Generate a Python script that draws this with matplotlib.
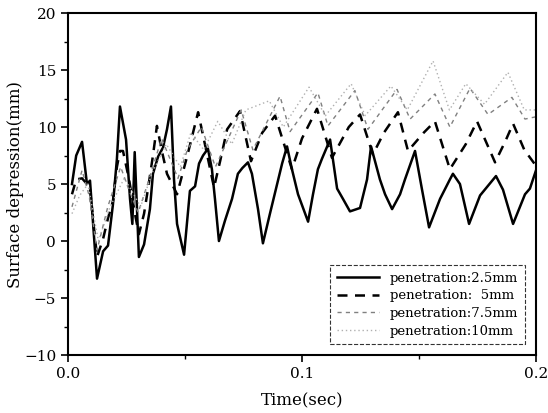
import matplotlib
matplotlib.use("Agg")
import matplotlib.pyplot as plt
from matplotlib.ticker import MultipleLocator

plt.rcParams['font.family'] = ['DejaVu Serif']

# penetration 2.5 mm (solid)
t_25 = [0.0017, 0.0035, 0.0060, 0.0081, 0.0094, 0.0124, 0.0150, 0.0171, 0.0192, 0.0209,
        0.0222, 0.0248, 0.0265, 0.0275, 0.0285, 0.0303, 0.0325, 0.0350, 0.0363, 0.0385,
        0.0406, 0.0423, 0.0440, 0.0453, 0.0466, 0.0496, 0.0521, 0.0543, 0.0560, 0.0577,
        0.0598, 0.0615, 0.0628, 0.0645, 0.0671, 0.0701, 0.0726, 0.0745, 0.0769, 0.0786,
        0.0812, 0.0833, 0.0863, 0.0889, 0.0915, 0.0936, 0.0957, 0.0983, 0.1026, 0.1047,
        0.1068, 0.1085, 0.1120, 0.1150, 0.1175, 0.1205, 0.1248, 0.1278, 0.1295, 0.1333,
        0.1355, 0.1385, 0.1419, 0.1440, 0.1483, 0.1513, 0.1543, 0.1590, 0.1632, 0.1645,
        0.1675, 0.1714, 0.1761, 0.1829, 0.1859, 0.1902, 0.1953, 0.1974, 0.2000]
y_25 = [5.0, 7.5, 8.7, 5.0, 5.3, -3.3, -0.9, -0.4, 3.2, 7.2,
        11.8, 8.9, 3.7, 1.5, 7.8, -1.4, -0.3, 2.8, 5.9, 7.4,
        8.2, 9.8, 11.8, 5.4, 1.5, -1.2, 4.4, 4.8, 6.8, 7.5,
        8.1, 6.3, 3.7, 0.0, 1.8, 3.7, 5.9, 6.4, 6.9, 5.9,
        2.8, -0.2, 2.4, 4.6, 6.8, 8.3, 6.3, 4.1, 1.7, 4.1,
        6.3, 7.2, 8.9, 4.6, 3.7, 2.6, 2.9, 5.4, 8.3, 5.4,
        4.1, 2.8, 4.1, 5.4, 7.9, 4.5, 1.2, 3.7, 5.4, 5.9,
        5.0, 1.5, 4.0, 5.7, 4.5, 1.5, 4.1, 4.6, 6.2]

# penetration 5 mm (dashed)
t_5 = [0.0017, 0.0035, 0.0060, 0.0081, 0.0094, 0.0124, 0.0150, 0.0171, 0.0192, 0.0209,
       0.0222, 0.0235, 0.0260, 0.0285, 0.0303, 0.0325, 0.0345, 0.0363, 0.0380, 0.0400,
       0.0423, 0.0466, 0.0510, 0.0556, 0.0585, 0.0624, 0.0650, 0.0680, 0.0735, 0.0782,
       0.0830, 0.0885, 0.0957, 0.1000, 0.1064, 0.1128, 0.1200, 0.1248, 0.1303, 0.1350,
       0.1410, 0.1453, 0.1520, 0.1568, 0.1632, 0.1700, 0.1748, 0.1825, 0.1870, 0.1902,
       0.1950, 0.2000]
y_5 = [4.1, 5.4, 5.5, 5.0, 4.5, -1.4, 0.2, 2.0, 3.5, 6.5,
       7.9, 7.9, 5.5, 2.5, 0.6, 2.4, 5.0, 7.5, 10.1, 8.0,
       5.9, 4.1, 7.5, 11.3, 8.5, 4.7, 7.0, 9.8, 11.4, 7.0,
       9.5, 11.0, 6.3, 9.0, 11.6, 7.3, 10.0, 11.1, 7.6, 9.5,
       11.3, 7.9, 9.5, 10.5, 6.3, 8.5, 10.5, 6.9, 8.8, 10.3,
       8.0, 6.6]

# penetration 7.5 mm (fine dashed, grey)
t_75 = [0.0017, 0.0060, 0.0090, 0.0124, 0.0170, 0.0225, 0.0260, 0.0300, 0.0340, 0.0400,
        0.0440, 0.0470, 0.0510, 0.0570, 0.0630, 0.0740, 0.0790, 0.0906, 0.0949, 0.1068,
        0.1111, 0.1226, 0.1282, 0.1406, 0.1462, 0.1568, 0.1632, 0.1718, 0.1795, 0.1897,
        0.1953, 0.2000]
y_75 = [3.0, 6.2, 4.0, -0.8, 3.0, 6.5, 4.5, 2.5, 5.0, 9.0,
        7.0, 5.5, 8.0, 10.0, 6.5, 11.5, 8.0, 12.7, 9.6, 13.0,
        10.1, 13.2, 9.8, 13.3, 10.7, 12.9, 10.0, 13.4, 11.1, 12.6,
        10.7, 10.9]

# penetration 10 mm (dotted, light grey)
t_10 = [0.0017, 0.0050, 0.0085, 0.0130, 0.0180, 0.0240, 0.0270, 0.0310, 0.0360, 0.0420,
        0.0480, 0.0525, 0.0580, 0.0640, 0.0700, 0.0760, 0.0860, 0.0920, 0.1030, 0.1100,
        0.1210, 0.1270, 0.1380, 0.1450, 0.1560, 0.1630, 0.1700, 0.1780, 0.1880, 0.1950,
        0.2000]
y_10 = [2.4, 4.0, 5.0, 0.0, 3.0, 5.5, 4.5, 3.0, 6.0, 8.5,
        6.5, 9.5, 8.0, 10.5, 8.5, 11.5, 12.3, 10.0, 13.5, 11.0,
        13.8, 11.0, 13.6, 11.5, 15.8, 11.5, 13.8, 12.0, 14.8, 11.5,
        11.5]

labels = ["penetration:2.5mm", "penetration:  5mm", "penetration:7.5mm", "penetration:10mm"]
x_ticks = [0.0, 0.1, 0.2]
x_ticklabels = ["0.0", "0.1", "0.2"]
y_ticks = [-10, -5, 0, 5, 10, 15, 20]

fig = plt.figure(figsize=(5.48, 4.13), dpi=100)
ax = fig.add_axes([0.1241, 0.1404, 0.854, 0.828])

ax.plot(t_25, y_25, color='black', lw=1.8, ls='-', label=labels[0])
ax.plot(t_5, y_5, color='black', lw=1.8, ls=(0, (4, 3)), label=labels[1])
ax.plot(t_75, y_75, color='#808080', lw=1.0, ls=(0, (3, 3)), label=labels[2])
ax.plot(t_10, y_10, color='#b0b0b0', lw=1.0, ls=(0, (1, 2)), label=labels[3])

ax.set_xlim(0, 0.2)
ax.set_ylim(-10, 20)
ax.set_xticks(x_ticks)
ax.set_xticklabels(x_ticklabels)
ax.set_yticks(y_ticks)
ax.xaxis.set_minor_locator(MultipleLocator(0.05))
ax.yaxis.set_minor_locator(MultipleLocator(2.5))
ax.tick_params(which='major', direction='out', length=5, width=1.2, labelsize=11)
ax.tick_params(which='minor', direction='out', length=3, width=1.0)
for s in ax.spines.values():
    s.set_linewidth(1.5)

ax.set_xlabel("Time(sec)", fontsize=12, labelpad=8)
ax.set_ylabel("Surface depression(mm)", fontsize=12, labelpad=0)

leg = ax.legend(loc='lower right', bbox_to_anchor=(0.99, 0.012), fontsize=9.5,
                frameon=True, fancybox=False, handlelength=3.2, borderpad=0.5,
                labelspacing=0.35, edgecolor='black')
leg.get_frame().set_linestyle('--')
leg.get_frame().set_linewidth(0.8)

fig.savefig("out.png", dpi=100)
